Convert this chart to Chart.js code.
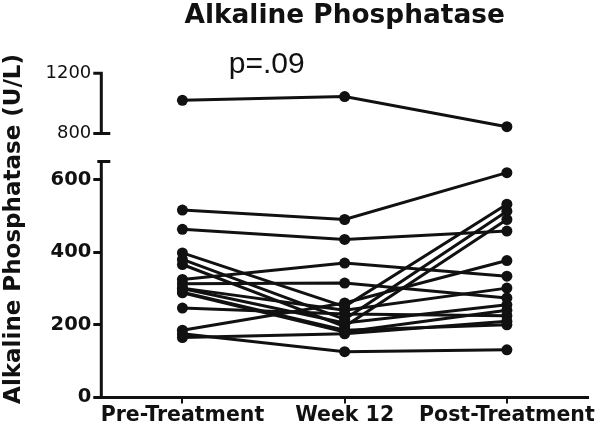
<!DOCTYPE html>
<html>
<head>
<meta charset="utf-8">
<script src="https://cdn.jsdelivr.net/npm/chart.js@4.4.0/dist/chart.umd.min.js"></script>
<style>
	body { margin: 0; background: #fff; }
</style>
</head>
<body>
<canvas id="myChart" width="601" height="432"></canvas>
<script>
var categories = ["Pre-Treatment", "Week 12", "Post-Treatment"];

// one row per subject: pre, week 12, post
var lowerSubjects = [
	[516, 490, 619],
	[463, 435, 458],
	[325, 370, 334],
	[313, 315, 274],
	[398, 250, 532],
	[380, 215, 513],
	[366, 195, 490],
	[175, 126, 131],
	[185, 260, 377],
	[301, 240, 301],
	[288, 180, 240],
	[246, 230, 225],
	[165, 175, 210],
	[300, 205, 255],
	[290, 185, 200]
];
var upperSubjects = [
	[1020, 1045, 845]
];

var lowerTicks = [0, 200, 400, 600];
var upperTicks = [800, 1200];
var lowerTop = 650;
var pLabel = "p=.09";

var ink = '#111';

var datasets = [];
lowerSubjects.forEach(function(vals) {
	datasets.push({ data: vals, yAxisID: 'y' });
});
upperSubjects.forEach(function(vals) {
	datasets.push({ data: vals, yAxisID: 'y2' });
});

// broken axis segments, upper tick labels and the p value
var brokenAxis = {
	id: 'brokenAxis',
	afterDraw: function(chart) {
		var c = chart.ctx;
		var y = chart.scales.y, y2 = chart.scales.y2, x = chart.scales.x;
		var left = chart.chartArea.left;
		c.save();
		c.strokeStyle = ink;
		c.lineWidth = 3;
		c.lineCap = 'butt';
		c.beginPath();
		c.moveTo(left, y.getPixelForValue(0) + 1.5);
		c.lineTo(left, y.getPixelForValue(lowerTop));
		c.moveTo(left - 4, y.getPixelForValue(lowerTop));
		c.lineTo(left + 9, y.getPixelForValue(lowerTop));
		var top = y2.getPixelForValue(upperTicks[1]);
		var bot = y2.getPixelForValue(upperTicks[0]);
		c.moveTo(left, top - 1.5);
		c.lineTo(left, bot);
		c.moveTo(left - 8, top);
		c.lineTo(left + 1.5, top);
		c.moveTo(left - 8, bot);
		c.lineTo(left + 9, bot);
		c.stroke();

		c.fillStyle = ink;
		c.font = '18px "DejaVu Sans"';
		c.textAlign = 'right';
		c.textBaseline = 'middle';
		upperTicks.forEach(function(v) {
			c.fillText(String(v), left - 10, y2.getPixelForValue(v));
		});

		c.font = '30px "Liberation Sans"';
		c.textAlign = 'center';
		c.textBaseline = 'alphabetic';
		var px = x.getPixelForValue(0) + (x.getPixelForValue(1) - x.getPixelForValue(0)) * 0.52;
		c.fillText(pLabel, px, y2.getPixelForValue(1205));
		c.restore();
	}
};

var ctx = document.getElementById("myChart").getContext('2d');
var myChart = new Chart(ctx, {
	type: 'line',
	data: {
		labels: categories,
		datasets: datasets
	},
	options: {
		responsive: false,
		animation: false,
		layout: { padding: { top: 0, left: 0, right: 13, bottom: 4 } },
		elements: {
			line: { borderColor: ink, borderWidth: 3, tension: 0 },
			point: { radius: 5.5, backgroundColor: ink, borderColor: ink, borderWidth: 0 }
		},
		plugins: {
			legend: { display: false },
			tooltip: { enabled: false },
			title: {
				display: true,
				fullSize: false,
				text: 'Alkaline Phosphatase',
				color: ink,
				font: { family: 'DejaVu Sans', size: 26.4, weight: 'bold' },
				padding: { top: 0, bottom: 28.8 }
			}
		},
		scales: {
			x: {
				offset: true,
				grid: { drawOnChartArea: false, drawTicks: true, tickLength: 6, color: ink, lineWidth: 2, offset: false },
				border: { display: true, color: ink, width: 3 },
				ticks: { color: ink, padding: 0, autoSkip: false, maxRotation: 0, font: { family: 'DejaVu Sans', size: 20.5, weight: 'bold' } }
			},
			y: {
				min: 0,
				max: 928,
				afterBuildTicks: function(s) {
					s.ticks = lowerTicks.map(function(v) { return { value: v }; });
				},
				grid: { drawOnChartArea: false, drawTicks: true, tickLength: 8, color: ink, lineWidth: 3 },
				border: { display: false },
				ticks: { color: ink, padding: 2, font: { family: 'DejaVu Sans', size: 19.5, weight: 'bold' } },
				title: {
					display: true,
					text: 'Alkaline Phosphatase (U/L)',
					color: ink,
					font: { family: 'DejaVu Sans', size: 23, weight: 'bold' },
					padding: { top: 0, bottom: 21 }
				}
			},
			y2: {
				display: false,
				position: 'left',
				min: -953,
				max: 1285
			}
		}
	},
	plugins: [brokenAxis]
});
</script>
</body>
</html>
